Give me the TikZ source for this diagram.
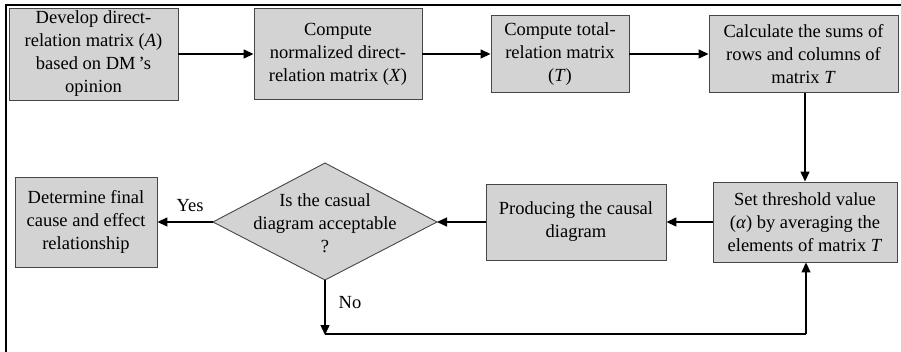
\documentclass[tikz,border=0pt]{standalone}
\usepackage{fontspec}
\setmainfont{Liberation Serif}
\usetikzlibrary{arrows.meta}
\definecolor{boxgray}{RGB}{211,211,211}
\definecolor{edgegray}{RGB}{70,70,70}
\tikzset{
  stepbox/.style={draw=edgegray, line width=0.9pt, fill=boxgray, align=center,
    inner sep=0pt, font=\fontsize{18.5}{23}\selectfont},
  conn/.style={line width=1.4pt, -{Triangle[length=10pt,width=9pt]}},
  plain/.style={line width=1.4pt},
  lbl/.style={font=\fontsize{18.5}{23}\selectfont, inner sep=0pt},
}
\begin{document}
\begin{tikzpicture}[x=1pt,y=-1pt]
\useasboundingbox (0,0) rectangle (901,352);
% partial frame
\coordinate (fa) at (6,5);
\coordinate (fb) at (901,5);
\coordinate (fc) at (6,352);
\draw[line width=2.6pt] (fb) -- (fa) -- (fc);

\node[stepbox, minimum width=169pt, minimum height=92pt] (b1) at (93.5,54)
  {Develop direct-\\relation matrix (\textit{A})\\based on DM\,’s\\opinion};
\node[stepbox, minimum width=168pt, minimum height=91pt] (b2) at (338,54)
  {Compute\\normalized direct-\\relation matrix (\textit{X})};
\node[stepbox, minimum width=138pt, minimum height=77pt] (b3) at (560,54)
  {Compute total-\\relation matrix\\(\textit{T})};
\node[stepbox, minimum width=189pt, minimum height=77pt] (b4) at (803.5,54)
  {Calculate the sums of\\rows and columns of\\matrix \textit{T}};
\node[stepbox, minimum width=184pt, minimum height=80pt] (b5) at (805,222)
  {Set threshold value\\(\textit{α}) by averaging the\\elements of matrix \textit{T}};
\node[stepbox, minimum width=180pt, minimum height=76pt] (b6) at (576,222)
  {Producing the causal\\diagram};
\node[stepbox, minimum width=142pt, minimum height=90pt] (b7) at (86,222)
  {Determine final\\cause and effect\\relationship};

% decision diamond
\coordinate (dt) at (325,163);
\coordinate (dr) at (437,222);
\coordinate (db) at (325,280);
\coordinate (dl) at (213,222);
\draw[draw=edgegray, line width=0.9pt, fill=boxgray] (dt) -- (dr) -- (db) -- (dl) -- cycle;
\node[lbl, align=center] (dtext) at (325,223)
  {Is the casual\\diagram acceptable\\?};

% connectors
\draw[conn] (b1.east) -- (b2.west);
\draw[conn] (b2.east) -- (b3.west);
\draw[conn] (b3.east) -- (b4.west);
\draw[conn] (b4.south -| b5.north) -- (b5.north);
\draw[conn] (b5.west) -- (b6.east);
\draw[conn] (b6.west) -- (dr);
\draw[conn] (dl) -- (b7.east);
\node[lbl] (yes) at (190,206) {Yes};

\coordinate (n1) at (325,335);
\coordinate (n2) at (806,334);
\draw[conn] (db) -- (n1);
\node[lbl] (no) at (350,303) {No};
\draw[plain] (325,334) -- (n2);
\draw[conn] (n2) -- (n2 |- b5.south);
\end{tikzpicture}
\end{document}
